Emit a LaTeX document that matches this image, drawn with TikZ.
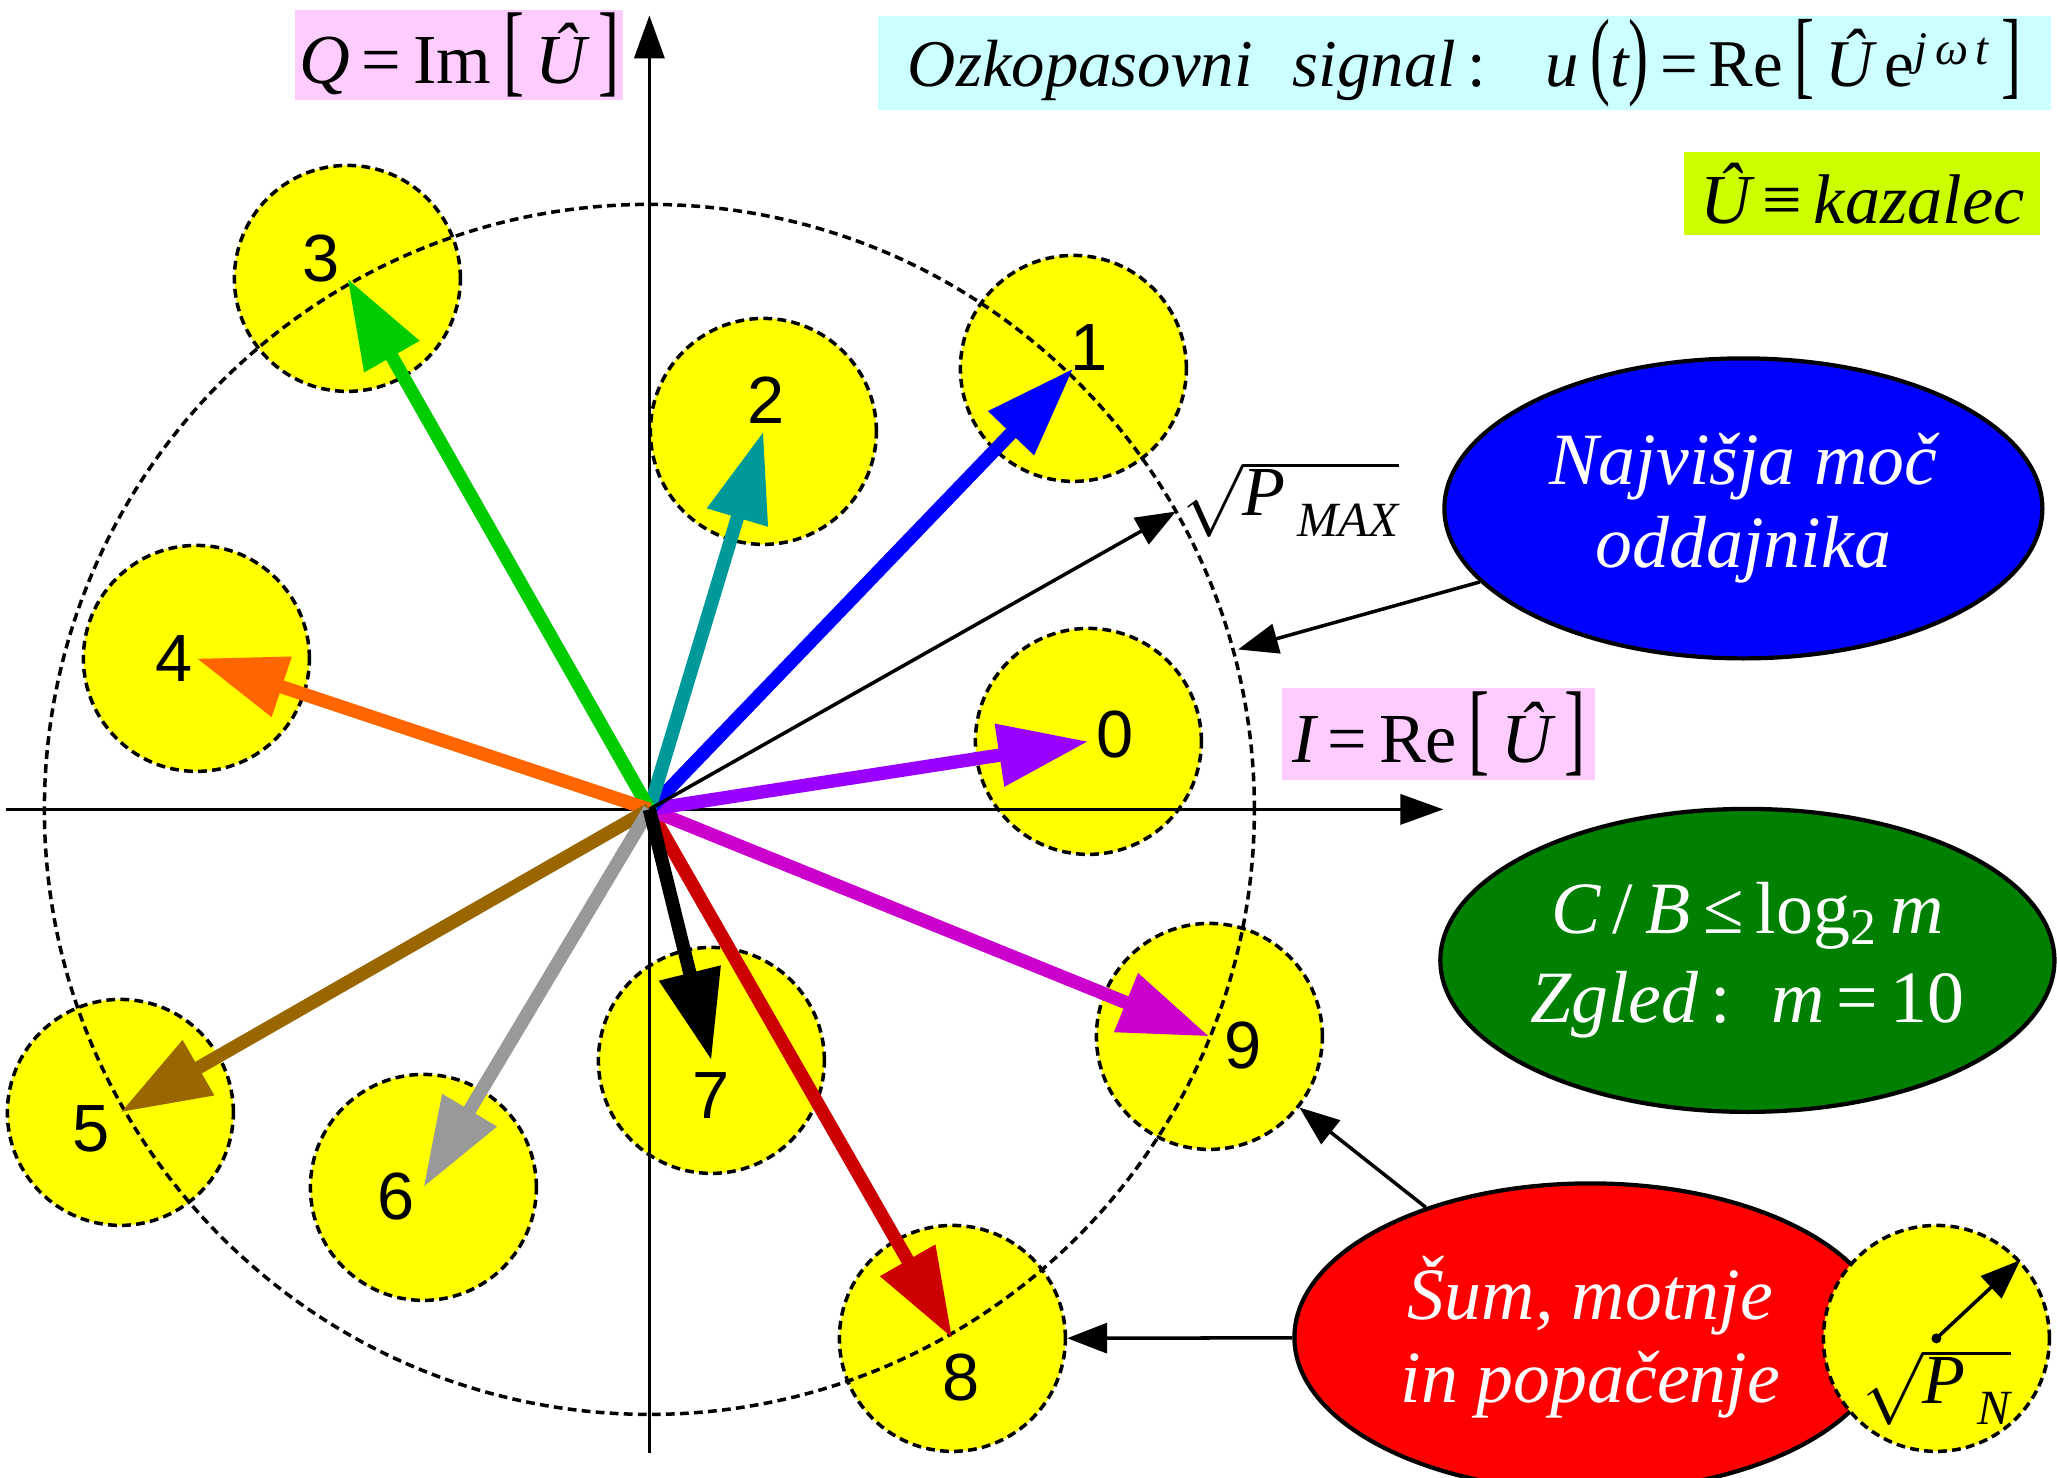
\documentclass[tikz,border=0pt]{standalone}
\usepackage{fontspec}
\setmainfont{Liberation Serif}
\newfontfamily\digitfont{Liberation Sans}
\usepackage{graphicx}
\usepackage{tikz}
\usetikzlibrary{arrows.meta, shapes.geometric, positioning}
\definecolor{discfill}{HTML}{FFFF00}
\definecolor{axispink}{HTML}{FFCCFF}
\definecolor{titlecyan}{HTML}{CCFFFF}
\definecolor{notelime}{HTML}{CCFF00}
\definecolor{maxblue}{HTML}{0000FF}
\definecolor{rategreen}{HTML}{008000}
\definecolor{noisered}{HTML}{FF0000}
\definecolor{ph0}{HTML}{9900FF}
\definecolor{ph1}{HTML}{0000FF}
\definecolor{ph2}{HTML}{009999}
\definecolor{ph3}{HTML}{00CC00}
\definecolor{ph4}{HTML}{FF6600}
\definecolor{ph5}{HTML}{996600}
\definecolor{ph6}{HTML}{999999}
\definecolor{ph7}{HTML}{000000}
\definecolor{ph8}{HTML}{CC0000}
\definecolor{ph9}{HTML}{CC00CC}
\newcommand{\tallbr}[1]{\scalebox{0.9}[1.45]{#1}}
\newcommand{\labelfont}{\fontsize{20}{24}\selectfont}
\newcommand{\bubblefont}{\fontsize{21}{23.5}\selectfont}
\tikzset{
  symbol disc/.style={
    circle,
    draw=black,
    fill=discfill,
    line width=1pt,
    dash pattern=on 2.5pt off 1.5pt,
    minimum size=2.26cm,
    inner sep=0pt
  },
  digit/.style={font=\digitfont\fontsize{19}{19}\selectfont, inner sep=0pt},
  phasor/.style={line width=3.8pt, -{Triangle[length=0.9cm, width=0.6cm]}},
  axis line/.style={line width=1pt, -{Triangle[length=0.43cm, width=0.3cm]}},
  pointer/.style={line width=1pt, -{Triangle[length=0.4cm, width=0.3cm]}},
  power ring/.style={line width=1pt, dash pattern=on 2.5pt off 1.5pt},
  tag box/.style={inner sep=0pt, font=\labelfont},
  bubble/.style={
    ellipse, draw=black, line width=1.2pt,
    text=white, align=center, inner sep=0pt
  }
}

\begin{document}
\begin{tikzpicture}
  \useasboundingbox (-6.494,-6.686) rectangle (14.076,8.094);
  \coordinate (O) at (0,0);

  \node[symbol disc] (c0) at (4.39,0.68) {};
  \node[symbol disc] (c1) at (4.24,4.41) {};
  \node[symbol disc] (c2) at (1.14,3.78) {};
  \node[symbol disc] (c3) at (-3.02,5.31) {};
  \node[symbol disc] (c4) at (-4.53,1.51) {};
  \node[symbol disc] (c5) at (-5.29,-3.03) {};
  \node[symbol disc] (c6) at (-2.26,-3.78) {};
  \node[symbol disc] (c7) at (0.62,-2.51) {};
  \node[symbol disc] (c8) at (3.03,-5.29) {};
  \node[symbol disc] (c9) at (5.60,-2.27) {};

  \draw[power ring] (O) circle (6.05);

  \coordinate (xmin) at (-6.43,0);
  \coordinate (xmax) at (7.94,0);
  \coordinate (ymin) at (0,-6.44);
  \coordinate (ymax) at (0,7.94);
  \draw[axis line] (xmin) -- (xmax);
  \draw[axis line] (ymin) -- (ymax);

  \draw[phasor, ph8] (O) -- (c8.center);
  \draw[phasor, ph9] (O) -- (c9.center);
  \draw[phasor, ph0] (O) -- (c0.center);
  \draw[phasor, ph1] (O) -- (c1.center);
  \draw[phasor, ph2] (O) -- (c2.center);
  \draw[phasor, ph3] (O) -- (c3.center);
  \draw[phasor, ph4] (O) -- (c4.center);
  \draw[phasor, ph5] (O) -- (c5.center);
  \draw[phasor, ph6] (O) -- (c6.center);
  \draw[phasor, ph7] (O) -- (c7.center);

  \coordinate (pmax) at (29.5:6.05);
  \draw[pointer] (O) -- (pmax);
  \node[font=\labelfont, inner sep=0pt] (pmaxlab) at (6.41,3.10)
    {$\sqrt{\mbox{\itshape P\hspace{0.12cm}\raisebox{-0.3em}{\fontsize{14}{14}\selectfont MAX}}}$};

  \node[digit] (d0) at (4.66,0.75) {0};
  \node[digit] (d1) at (4.40,4.62) {1};
  \node[digit] (d2) at (1.17,4.09) {2};
  \node[digit] (d3) at (-3.28,5.51) {3};
  \node[digit] (d4) at (-4.75,1.51) {4};
  \node[digit] (d5) at (-5.58,-3.19) {5};
  \node[digit] (d6) at (-2.53,-3.87) {6};
  \node[digit] (d7) at (0.62,-2.86) {7};
  \node[digit] (d8) at (3.12,-5.68) {8};
  \node[digit] (d9) at (5.94,-2.36) {9};

  \node[tag box, fill=axispink, minimum width=3.28cm, minimum height=0.9cm] (qtag) at (-1.90,7.54)
    {{\itshape Q}\,=\,Im\,\tallbr{[}\,{\itshape Û}\,\tallbr{]}};
  \node[tag box, fill=axispink, minimum width=3.13cm, minimum height=0.92cm] (itag) at (7.895,0.75)
    {{\itshape I}\,=\,Re\,\tallbr{[}\,{\itshape Û}\,\tallbr{]}};
  \node[tag box, fill=titlecyan, minimum width=11.73cm, minimum height=0.94cm,
        font=\fontsize{19}{23}\selectfont] (title) at (8.155,7.46)
    {{\itshape Ozkopasovni\hspace{0.4cm}signal}\,:\hspace{0.6cm}{\itshape u}\,\tallbr{(}{\itshape t}\tallbr{)}\,=\,Re\,\tallbr{[}\,{\itshape Û}\,e\textsuperscript{\itshape j\,ω\,t}\,\tallbr{]}};
  \node[tag box, fill=notelime, minimum width=3.56cm, minimum height=0.83cm] (phasortag) at (12.13,6.155)
    {{\itshape Û}\,≡\,{\itshape kazalec}};

  \node[bubble, fill=maxblue, minimum width=5.98cm, minimum height=3.0cm,
        font=\bubblefont\itshape] (najvis) at (10.94,3.01) {Najvišja moč\\oddajnika};
  \node[bubble, fill=rategreen, minimum width=6.1cm, minimum height=3.03cm,
        font=\fontsize{21}{25.5}\selectfont] (rate) at (10.98,-1.51)
    {{\itshape C}\,/\,{\itshape B}\,≤\,log\textsubscript{2}\,{\itshape m}\\{\itshape Zgled}\,:\hspace{0.4cm}{\itshape m}\,=\,10};
  \node[bubble, fill=noisered, minimum width=5.92cm, minimum height=3.08cm,
        font=\bubblefont\itshape] (sum) at (9.41,-5.28) {Šum, motnje\\in popačenje};

  \node[symbol disc] (pn) at (12.87,-5.29) {};
  \fill (pn.center) circle (0.05);
  \draw[pointer] (pn.center) -- (pn.43);
  \node[font=\labelfont, inner sep=0pt] (pnlab) at (12.87,-5.78)
    {$\sqrt{\mbox{\itshape P\hspace{0.12cm}\raisebox{-0.3em}{\fontsize{14}{14}\selectfont N}}}$};

  \coordinate (rim) at (15.2:6.1);
  \draw[pointer] (najvis) -- (rim);
  \draw[pointer] (sum) -- (c9);
  \draw[pointer] (sum) -- (c8);
\end{tikzpicture}
\end{document}
